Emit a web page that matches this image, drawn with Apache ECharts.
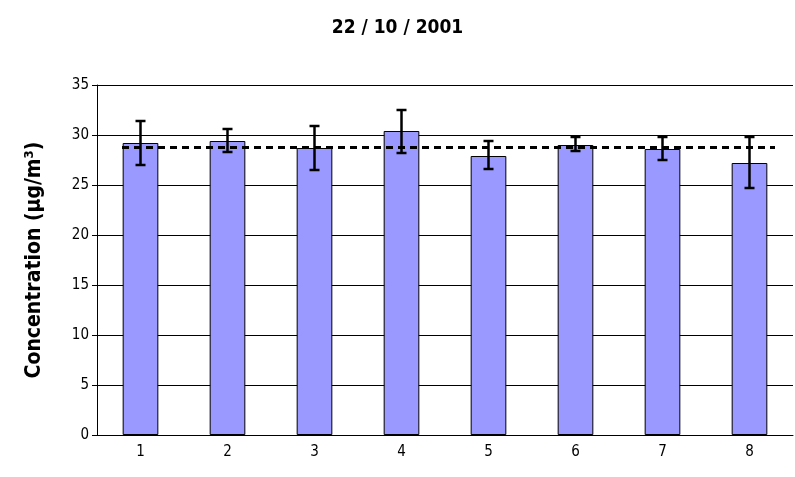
<!DOCTYPE html>
<html>
<head>
<meta charset="UTF-8">
<script src="https://cdn.jsdelivr.net/npm/echarts@6/dist/echarts.min.js"></script>
<style>html,body{margin:0;background:#fff}#main{width:795px;height:477px}</style>
</head>
<body>
<div id="main"></div>
<script>
var categories = ['1', '2', '3', '4', '5', '6', '7', '8'];
var values = [29.2, 29.4, 28.7, 30.4, 27.9, 29.0, 28.6, 27.2];
var errHigh = [31.4, 30.6, 30.9, 32.5, 29.4, 29.8, 29.8, 29.8];
var errLow = [27.0, 28.3, 26.5, 28.2, 26.6, 28.4, 27.5, 24.7];
var meanLine = 28.8;

var font = '"Liberation Sans Narrow", "Arial Narrow", "DejaVu Sans Condensed", sans-serif';
var chart = echarts.init(document.getElementById('main'));
chart.setOption({
  animation: false,
  textStyle: { fontFamily: font },
  title: {
    text: '22 / 10 / 2001', left: 'center', top: 14,
    textStyle: { fontFamily: font, fontSize: 19, fontWeight: 'bold', color: '#000' }
  },
  grid: { left: 97, right: 2, top: 85, bottom: 42 },
  xAxis: {
    type: 'category', data: categories,
    axisLine: { lineStyle: { color: '#000' } },
    axisTick: { lineStyle: { color: '#000' }, length: 5 },
    axisLabel: { color: '#000', fontSize: 15, margin: 10 }
  },
  yAxis: {
    type: 'value', min: 0, max: 35, interval: 5,
    name: 'Concentration (µg/m³)', nameLocation: 'middle', nameGap: 52,
    nameTextStyle: { fontSize: 21, fontWeight: 'bold', color: '#000' },
    axisLine: { show: true, lineStyle: { color: '#000' } },
    axisTick: { show: true, inside: false, length: 5, lineStyle: { color: '#000' } },
    axisLabel: { color: '#000', fontSize: 15 },
    splitLine: { lineStyle: { color: '#000', width: 1 } }
  },
  series: [
    {
      type: 'bar', data: values, barWidth: '41%',
      itemStyle: { color: '#9999ff', borderColor: '#000', borderWidth: 1 },
      markLine: {
        symbol: 'none', silent: true, label: { show: false },
        lineStyle: { color: '#000', type: [7, 5], width: 3 },
        data: [[{ coord: [0, meanLine], x: 122 }, { coord: [7, meanLine], x: 775 }]]
      }
    },
    {
      type: 'custom',
      data: categories.map(function (c, i) { return [i, errLow[i], errHigh[i]]; }),
      renderItem: function (params, api) {
        var lo = api.coord([api.value(0), api.value(1)]);
        var hi = api.coord([api.value(0), api.value(2)]);
        var w = 5;
        var st = { stroke: '#000', lineWidth: 2.5 };
        return { type: 'group', children: [
          { type: 'line', shape: { x1: lo[0], y1: lo[1], x2: hi[0], y2: hi[1] }, style: st },
          { type: 'line', shape: { x1: lo[0] - w, y1: lo[1], x2: lo[0] + w, y2: lo[1] }, style: st },
          { type: 'line', shape: { x1: hi[0] - w, y1: hi[1], x2: hi[0] + w, y2: hi[1] }, style: st }
        ] };
      },
      z: 10
    }
  ]
});
</script>
</body>
</html>
